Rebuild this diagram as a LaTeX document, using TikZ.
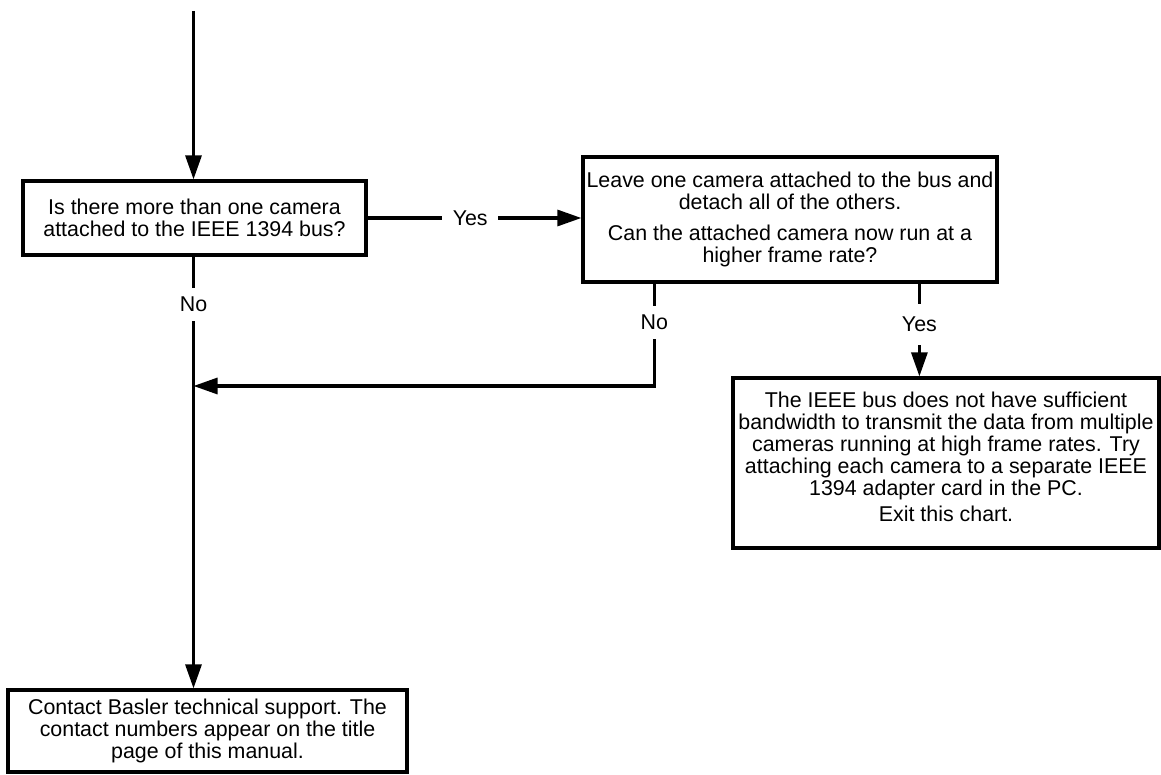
\documentclass[tikz,border=0pt]{standalone}
\usepackage{fontspec}
\setmainfont{Liberation Sans}
\usetikzlibrary{arrows.meta,calc}
\begin{document}
\begin{tikzpicture}[x=1pt,y=-1pt,
  txtfont/.style={font=\fontsize{21.4}{22}\selectfont},
  box/.style={draw,line width=3.2pt,rectangle,align=center,inner sep=0pt,txtfont},
  conn/.style={line width=3.1pt},
  arr/.style={conn,-{Triangle[length=24pt,width=16pt]}},
  lbl/.style={fill=white,inner xsep=10.5pt,inner ysep=9pt,txtfont}]
\useasboundingbox (0,0) rectangle (1161,775);

\node[box,minimum width=343pt,minimum height=74pt] (q) at (194.5,218)
  {Is there more than one camera\\attached to the IEEE 1394 bus?};
\node[box,minimum width=414pt,minimum height=125pt] (a) at (790,219.5)
  {Leave one camera attached to the bus and\\detach all of the others.\\[9pt]
   Can the attached camera now run at a\\higher frame rate?};
\node[box,minimum width=426pt,minimum height=170pt] (e) at (946,463)
  {The IEEE bus does not have sufficient\\bandwidth to transmit the data from multiple\\
   cameras running at high frame rates. Try\\attaching each camera to a separate IEEE\\
   1394 adapter card in the PC.\\[4pt]Exit this chart.\rule[-12pt]{0pt}{12pt}};
\node[box,minimum width=399pt,minimum height=82pt] (c) at (207.5,731)
  {Contact Basler technical support. The\\contact numbers appear on the title\\page of this manual.};

\coordinate (top) at (193.5,11);
\coordinate (j) at (193.5,386);

\draw[arr] (top) -- (top |- q.north);
\draw[arr] (q.east) -- (q.east -| a.west) node[lbl,pos=0.48] (yes1) {Yes};
\draw[arr] ([xshift=-1pt]q.south) -- ([xshift=-1pt]q.south |- c.north) node[lbl,pos=0.11] (no1) {No};
\draw[arr] ([xshift=73pt]a.south west) |- (j) node[lbl,pos=0.19] (no2) {No};
\draw[arr] ([xshift=338pt]a.south west) -- ([xshift=338pt]a.south west |- e.north)
  node[lbl,inner ysep=13pt,pos=0.44] (yes2) {Yes};
\end{tikzpicture}
\end{document}
